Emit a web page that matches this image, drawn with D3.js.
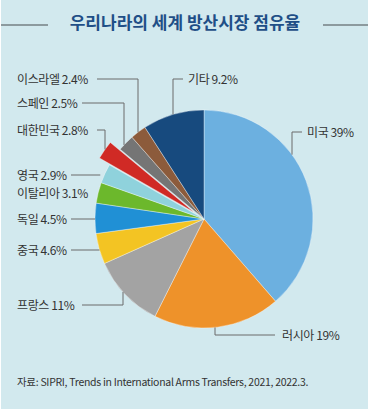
<!DOCTYPE html>
<html>
<head>
<meta charset="utf-8">
<script src="https://cdn.jsdelivr.net/npm/d3@7"></script>
<style>
  body { margin: 0; background: #fff; }
  svg text { font-family: "Noto Sans CJK KR", "Noto Sans", sans-serif; }
</style>
</head>
<body>
<svg id="chart"></svg>
<script>
// data, clockwise from 12 o'clock
var countries = ["미국", "러시아", "프랑스", "중국", "독일", "이탈리아", "영국", "대한민국", "스페인", "이스라엘", "기타"];
var shares = [39, 19, 11, 4.6, 4.5, 3.1, 2.9, 2.8, 2.5, 2.4, 9.2];
var shareLabels = ["39%", "19%", "11%", "4.6%", "4.5%", "3.1%", "2.9%", "2.8%", "2.5%", "2.4%", "9.2%"];
var colors = ["#6cb0e0", "#ee922a", "#a3a3a3", "#f3c423", "#2090d5", "#6cb82c", "#8fd2dc", "#d02a25", "#757575", "#8c5b3b", "#174a7e"];
var highlight = "대한민국";

var width = 370;
var height = 410;
var cx = 204, cy = 219, radius = 109;
var explode = 12;

var svg = d3.select("#chart")
  .attr("width", width)
  .attr("height", height);

svg.append("rect")
  .attr("x", 1).attr("y", 0)
  .attr("width", 367).attr("height", 409)
  .attr("fill", "#d2e9ee");

// title with side rules
svg.append("line")
  .attr("x1", 1).attr("x2", 48).attr("y1", 25).attr("y2", 25)
  .attr("stroke", "#8c9a9e").attr("stroke-width", 2);
svg.append("line")
  .attr("x1", 323).attr("x2", 368).attr("y1", 25).attr("y2", 25)
  .attr("stroke", "#8c9a9e").attr("stroke-width", 2);
svg.append("text")
  .attr("x", 185).attr("y", 29)
  .attr("text-anchor", "middle")
  .attr("font-size", 17)
  .attr("font-weight", "bold")
  .attr("fill", "#1f4f87")
  .text("우리나라의 세계 방산시장 점유율");

var pie = d3.pie().sort(null).value(function(d) { return d; });
var arcs = pie(shares);
var arc = d3.arc().innerRadius(0).outerRadius(radius);

function offsetOf(i) {
  if (countries[i] !== highlight) return [0, 0];
  var a = (arcs[i].startAngle + arcs[i].endAngle) / 2;
  return [Math.sin(a) * explode, -Math.cos(a) * explode];
}

var g = svg.append("g").attr("transform", "translate(" + cx + "," + cy + ")");
g.selectAll("path")
  .data(arcs)
  .enter()
  .append("path")
  .attr("d", arc)
  .attr("transform", function(d, i) {
    var o = offsetOf(i);
    return "translate(" + o[0] + "," + o[1] + ")";
  })
  .attr("fill", function(d, i) { return colors[i]; })
  .attr("stroke", "#ffffff")
  .attr("stroke-opacity", 0.6)
  .attr("stroke-width", 0.6);

// label layout: text position + leader (elbow x on the pie, or horizontal only)
var labelX = [307, 282, 17, 17, 17, 17, 17, 17, 17, 17, 188];
var labelY = [132, 335, 305, 250, 219, 193, 175, 130, 103, 79, 79];
var leaderElbowX = [292, 215, 123, null, null, null, null, 105, 124, 138, 173];
var leaderEndX = [302, 275, 82, 71, 71, null, 71, 97, 82, 97, 183];

// y on the (possibly exploded) circle edge for a given x
function edgeY(i, x, sign) {
  var o = offsetOf(i);
  var dx = x - (cx + o[0]);
  return cy + o[1] + sign * Math.sqrt(radius * radius - dx * dx);
}
function edgeX(i, y) {
  var o = offsetOf(i);
  var dy = y - (cy + o[1]);
  return cx + o[0] - Math.sqrt(radius * radius - dy * dy);
}

var leaders = svg.append("g")
  .attr("fill", "none")
  .attr("stroke", "#6b6b6b")
  .attr("stroke-width", 1);

countries.forEach(function(name, i) {
  var y = labelY[i];
  var pts = null;
  if (leaderElbowX[i] !== null) {
    var ex = leaderElbowX[i];
    var sign = y > cy ? 1 : -1;
    pts = [[leaderEndX[i], y], [ex, y], [ex, edgeY(i, ex, sign)]];
  } else if (leaderEndX[i] !== null) {
    pts = [[leaderEndX[i], y], [edgeX(i, y) - (name === "영국" ? 4 : 0), y]];
  }
  if (pts) {
    leaders.append("path").attr("d", d3.line()(pts));
  }
});

svg.append("g")
  .selectAll("text")
  .data(countries)
  .enter()
  .append("text")
  .attr("x", function(d, i) { return labelX[i]; })
  .attr("y", function(d, i) { return labelY[i] + 4.5; })
  .attr("font-size", 12)
  .attr("letter-spacing", -0.4)
  .attr("fill", "#333")
  .text(function(d, i) { return d + " " + shareLabels[i]; });

svg.append("text")
  .attr("x", 17).attr("y", 386)
  .attr("font-size", 10.5)
  .attr("letter-spacing", -0.3)
  .attr("fill", "#333")
  .text("자료: SIPRI, Trends in International Arms Transfers, 2021, 2022.3.");
</script>
</body>
</html>
